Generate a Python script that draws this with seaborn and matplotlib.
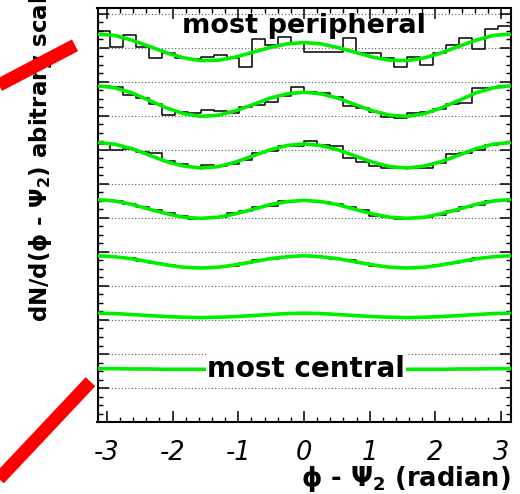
import numpy as np
import matplotlib
matplotlib.use("Agg")
import matplotlib.pyplot as plt
import seaborn as sns
from matplotlib.ticker import MultipleLocator
from matplotlib.lines import Line2D

sns.set_style("ticks")
plt.rcParams.update({
    'font.family': ['DejaVu Sans'],
    'mathtext.default': 'bf',
    'text.color': 'black',
    'axes.labelcolor': 'black',
    'axes.edgecolor': 'black',
    'axes.linewidth': 1.5,
    'xtick.direction': 'in',
    'ytick.direction': 'in',
    'xtick.top': True,
    'ytick.right': True,
    'xtick.color': 'black',
    'ytick.color': 'black',
    'xtick.labelcolor': 'black',
})

# 32 bins in phi - Psi2 over [-pi, pi], fit curves read every pi/12
n_bins = 32
edges = np.linspace(-np.pi, np.pi, n_bins + 1)
phi_fit = np.linspace(-np.pi, np.pi, 25)

# histograms, most peripheral (top) -> most central (bottom), arbitrary units
hist_1 = [11.49, 11.04, 11.39, 11.04, 10.70, 10.84, 10.72, 10.67, 10.74, 10.80, 10.71, 10.45,
          11.26, 11.08, 11.33, 11.16, 10.87, 10.87, 10.87, 11.28, 10.84, 10.86, 10.70, 10.45,
          10.73, 10.50, 10.84, 11.09, 11.29, 10.96, 11.55, 11.65]
hist_2 = [9.89, 9.84, 9.62, 9.54, 9.35, 9.03, 9.12, 9.09, 9.18, 9.16, 9.09, 9.27,
          9.32, 9.42, 9.59, 9.84, 9.71, 9.67, 9.55, 9.29, 9.23, 9.13, 8.98, 8.95,
          9.08, 9.13, 9.20, 9.35, 9.39, 9.81, 9.81, 9.89]
hist_3 = [8.18, 8.01, 8.04, 7.95, 7.90, 7.68, 7.58, 7.49, 7.57, 7.54, 7.58, 7.71,
          7.92, 7.98, 8.13, 8.13, 8.27, 8.15, 8.12, 7.77, 7.66, 7.54, 7.48, 7.46,
          7.46, 7.46, 7.61, 7.88, 7.92, 8.00, 8.15, 8.21]
hist_4 = [6.53, 6.51, 6.41, 6.33, 6.24, 6.14, 6.06, 5.96, 5.99, 6.02, 6.14, 6.21,
          6.31, 6.35, 6.51, 6.51, 6.51, 6.48, 6.41, 6.31, 6.24, 6.06, 6.02, 5.96,
          5.99, 6.02, 6.09, 6.21, 6.31, 6.38, 6.51, 6.53]
hist_5 = [4.89, 4.85, 4.82, 4.74, 4.67, 4.62, 4.55, 4.53, 4.54, 4.56, 4.60, 4.68,
          4.75, 4.80, 4.86, 4.88, 4.89, 4.86, 4.80, 4.75, 4.67, 4.60, 4.57, 4.53,
          4.53, 4.55, 4.61, 4.68, 4.74, 4.81, 4.86, 4.88]
hist_6 = [3.20, 3.18, 3.17, 3.15, 3.12, 3.10, 3.08, 3.07, 3.07, 3.08, 3.09, 3.12,
          3.14, 3.17, 3.19, 3.20, 3.19, 3.19, 3.17, 3.14, 3.12, 3.09, 3.08, 3.06,
          3.07, 3.08, 3.10, 3.12, 3.15, 3.16, 3.19, 3.20]
hist_7 = [1.57, 1.57, 1.56, 1.56, 1.55, 1.55, 1.55, 1.55, 1.55, 1.55, 1.55, 1.56,
          1.56, 1.57, 1.57, 1.57, 1.57, 1.57, 1.56, 1.56, 1.55, 1.55, 1.55, 1.55,
          1.55, 1.55, 1.56, 1.56, 1.56, 1.57, 1.57, 1.57]

# fit curves (green)
fit_1 = [11.41, 11.37, 11.23, 11.05, 10.86, 10.71, 10.63, 10.64, 10.73, 10.87, 11.01, 11.12, 11.16,
         11.12, 11.01, 10.87, 10.73, 10.64, 10.63, 10.71, 10.86, 11.05, 11.23, 11.37, 11.41]
fit_2 = [9.89, 9.83, 9.68, 9.46, 9.24, 9.07, 8.99, 9.02, 9.15, 9.33, 9.52, 9.65, 9.70,
         9.65, 9.52, 9.33, 9.15, 9.02, 8.99, 9.07, 9.24, 9.46, 9.68, 9.83, 9.89]
fit_3 = [8.22, 8.17, 8.04, 7.85, 7.66, 7.53, 7.47, 7.51, 7.64, 7.82, 8.00, 8.13, 8.18,
         8.13, 8.00, 7.82, 7.64, 7.51, 7.47, 7.53, 7.66, 7.85, 8.04, 8.17, 8.22]
fit_4 = [6.54, 6.50, 6.40, 6.26, 6.13, 6.02, 5.99, 6.02, 6.12, 6.25, 6.39, 6.48, 6.52,
         6.48, 6.39, 6.25, 6.12, 6.02, 5.99, 6.02, 6.13, 6.26, 6.40, 6.50, 6.54]
fit_5 = [4.89, 4.86, 4.80, 4.71, 4.62, 4.55, 4.53, 4.55, 4.62, 4.71, 4.80, 4.86, 4.89,
         4.86, 4.80, 4.71, 4.62, 4.55, 4.53, 4.55, 4.62, 4.71, 4.80, 4.86, 4.89]
fit_6 = [3.20, 3.19, 3.16, 3.13, 3.10, 3.08, 3.07, 3.08, 3.10, 3.13, 3.16, 3.19, 3.20,
         3.19, 3.16, 3.13, 3.10, 3.08, 3.07, 3.08, 3.10, 3.13, 3.16, 3.19, 3.20]
fit_7 = [1.57, 1.57, 1.56, 1.56, 1.55, 1.55, 1.55, 1.55, 1.55, 1.56, 1.56, 1.57, 1.57,
         1.57, 1.56, 1.56, 1.55, 1.55, 1.55, 1.55, 1.55, 1.56, 1.56, 1.57, 1.57]

hists = [hist_1, hist_2, hist_3, hist_4, hist_5, hist_6, hist_7]
fits = [fit_1, fit_2, fit_3, fit_4, fit_5, fit_6, fit_7]

xtick_values = [-3, -2, -1, 0, 1, 2, 3]
xtick_labels = ["-3", "-2", "-1", "0", "1", "2", "3"]

fig = plt.figure(figsize=(5.2, 4.94), dpi=100)
ax = fig.add_axes([97.5 / 520, 72 / 494, 413 / 520, 414 / 494])

for h, f in zip(hists, fits):
    # step outline of the histogram: last bin value repeated up to the right edge
    sns.lineplot(x=edges, y=h + [h[-1]], drawstyle='steps-post', color='black',
                 linewidth=1.1, ax=ax, estimator=None, sort=False, zorder=3)
    sns.lineplot(x=phi_fit, y=f, color='#00ee00', linewidth=2.6, ax=ax,
                 estimator=None, sort=False, zorder=4)

ax.set_xlim(-np.pi, np.pi)
ax.set_ylim(0, 414 / 34)

ax.set_xticks(xtick_values)
ax.set_xticklabels(xtick_labels, fontsize=18.5, fontstyle='italic', color='black')
ax.xaxis.set_minor_locator(MultipleLocator(0.2))
ax.yaxis.set_major_locator(MultipleLocator(1))
ax.yaxis.set_minor_locator(MultipleLocator(0.25))
ax.tick_params(axis='both', which='major', length=8, width=1.1)
ax.tick_params(axis='both', which='minor', length=3.8, width=1.0)
ax.tick_params(axis='x', which='major', pad=13)
ax.tick_params(axis='y', which='both', labelleft=False)
for s in ax.spines.values():
    s.set_visible(True)
    s.set_linewidth(1.5)

ax.set_axisbelow(True)
ax.yaxis.grid(True, which='major', linestyle=(0, (1, 2)), color='#555555', linewidth=0.8)
ax.xaxis.grid(False)
ax.set_xlabel('')
ax.set_ylabel('')

ax.text(0, 11.43, 'most peripheral', ha='center', va='baseline', color='black',
        fontsize=19.5, fontweight='bold', zorder=6)
ax.text(0.03, 1.33, 'most central', ha='center', va='baseline', color='black',
        fontsize=20, fontweight='bold', zorder=6,
        bbox=dict(facecolor='white', edgecolor='none', pad=0.5))

fig.text(510.5 / 520, 1 - 486 / 494, 'ϕ - Ψ$_2$ (radian)', ha='right', va='baseline',
         fontsize=18.5, fontweight='bold', color='black')
fig.text(41 / 520, 1 - 322 / 494, 'dN/d(ϕ - Ψ$_2$) abitrary scale', rotation=90,
         ha='center', va='bottom', fontsize=16.5, fontweight='bold', color='black')

# red break marks on the left
fig.add_artist(Line2D([-20 / 520, 75 / 520], [1 - 95 / 494, 1 - 45.3 / 494],
                      transform=fig.transFigure, color='#ff0000', lw=9.5,
                      solid_capstyle='butt', zorder=10))
fig.add_artist(Line2D([90.5 / 520, -20 / 520], [1 - 381.7 / 494, 1 - 499 / 494],
                      transform=fig.transFigure, color='#ff0000', lw=9.5,
                      solid_capstyle='butt', zorder=10))

fig.savefig('out.png', dpi=100)
